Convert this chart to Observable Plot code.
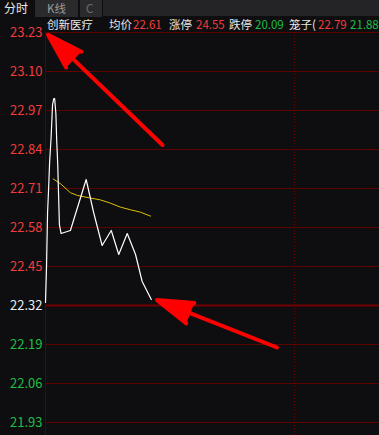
<!DOCTYPE html>
<html>
<head>
<meta charset="utf-8">
<script src="https://cdn.jsdelivr.net/npm/d3@7"></script>
<script src="https://cdn.jsdelivr.net/npm/@observablehq/plot@0.6"></script>
<style>
  html, body { margin: 0; padding: 0; background: #0e0e10; }
  body { width: 379px; height: 435px; overflow: hidden; position: relative;
         font-family: "Noto Sans CJK SC", "Noto Sans", sans-serif; }
  #chart { position: absolute; left: 0; top: 0; }
  .bar { position: absolute; left: 0; top: 0; width: 379px; height: 19px; background: #0e0e10; }
  .tab { position: absolute; top: 0; height: 17px; background: #2a2a2c; }
  .t { position: absolute; white-space: nowrap; font-size: 11.5px; line-height: 12px; }
  .w { color: #e8e8e8; } .r { color: #f23c3c; } .g { color: #1fbf45; }
</style>
</head>
<body>
<div id="chart"></div>
<div class="bar"></div>
<div class="tab" style="left:35px;width:43px"></div>
<div class="tab" style="left:80px;width:22px"></div>
<div class="tab" style="left:103px;width:276px;height:16px;background:#242426"></div>
<div class="t w" style="left:4px;top:2px;font-size:12px;line-height:12px">分时</div>
<div class="t" style="left:47px;top:2px;font-size:11.5px;line-height:12px;color:#9a9a9a">K线</div>
<div class="t" style="left:86px;top:2px;font-size:11.5px;line-height:12px;color:#6a6a6a">C</div>
<div id="info"></div>
<script>
// ---- data ----
const stockName = "创新医疗";
const infoLabels = ["均价", "涨停", "跌停", "笼子("];
const infoValues = ["22.61", "24.55", "20.09", "22.79"];
const infoExtra = "21.88";
const prevClose = 22.32;
const yTicks = [23.23, 23.10, 22.97, 22.84, 22.71, 22.58, 22.45, 22.32, 22.19, 22.06, 21.93];
const minutes = [0, 0.5, 1, 1.5, 2, 2.7, 3.4, 4, 4.4, 5, 5.4, 5.9, 6.7, 7.5, 12, 19.6, 23.2, 27.3, 31.7, 35.3, 39.4, 43.4, 46.6, 51];
const price =   [22.33, 22.45, 22.63, 22.71, 22.80, 22.88, 22.99, 23.01, 23.01, 22.96, 22.87, 22.79, 22.59, 22.56, 22.57, 22.74, 22.63, 22.52, 22.57, 22.49, 22.56, 22.49, 22.40, 22.34];
const avgMinutes = [3.7, 7.2, 12, 15.3, 21.7, 26.5, 31.3, 36.1, 41, 45.8, 50.6];
const avgPrice =   [22.742, 22.726, 22.696, 22.687, 22.678, 22.672, 22.661, 22.648, 22.639, 22.631, 22.618];
const middayMinute = 120;
// annotation arrows (tail -> tip) in minute / price units
const arrowX1 = [56.4, 111.6];
const arrowY1 = [22.855, 22.18];
const arrowX2 = [1.2, 53.8];
const arrowY2 = [23.222, 22.338];

// ---- header info row ----
const info = document.getElementById("info");
const infoPos = [[109, 133], [169, 196], [229, 255], [289, 318]];
const valueClass = ["r", "r", "g", "r"];
function span(cls, x, txt) {
  const s = document.createElement("div");
  s.className = "t " + cls; s.style.left = x + "px"; s.style.top = "18px"; s.textContent = txt;
  info.appendChild(s);
}
span("w", 47, stockName);
infoLabels.forEach((l, i) => { span("w", infoPos[i][0], l); span(valueClass[i], infoPos[i][1], infoValues[i]); });
span("g", 350, infoExtra);

// ---- chart ----
const pts = minutes.map((m, i) => ({m, p: price[i]}));
const avg = avgMinutes.map((m, i) => ({m, p: avgPrice[i]}));
const arrows = arrowX1.map((x, i) => ({x1: x, y1: arrowY1[i], x2: arrowX2[i], y2: arrowY2[i]}));
const gridColor = "#5e0000";
const upT = yTicks.filter(v => v > prevClose);
const dnT = yTicks.filter(v => v < prevClose);

const plot = Plot.plot({
  width: 379,
  height: 435,
  marginLeft: 45,
  marginRight: 0,
  marginTop: 32,
  marginBottom: 13,
  style: {background: "#0e0e10", fontFamily: "'Noto Sans CJK SC', 'Noto Sans', sans-serif", fontSize: "13px"},
  x: {domain: [0, 161], axis: null},
  y: {domain: [21.93, 23.23], axis: null},
  marks: [
    Plot.ruleY(yTicks.filter(v => v !== prevClose), {stroke: gridColor, strokeWidth: 1}),
    Plot.ruleY([prevClose], {stroke: "#740000", strokeWidth: 2}),
    Plot.ruleX([0], {stroke: gridColor, strokeWidth: 1, y1: 23.23, y2: 21.93, insetBottom: -13}),
    Plot.ruleX([middayMinute], {stroke: "#7a0000", strokeWidth: 1, strokeDasharray: "1,2", insetBottom: -13}),
    Plot.text(upT, {y: d => d, frameAnchor: "left", textAnchor: "end", dx: -3, text: d => d.toFixed(2), fill: "#f23c3c"}),
    Plot.text([prevClose], {y: d => d, frameAnchor: "left", textAnchor: "end", dx: -3, text: d => d.toFixed(2), fill: "#e8eef8"}),
    Plot.text(dnT, {y: d => d, frameAnchor: "left", textAnchor: "end", dx: -3, text: d => d.toFixed(2), fill: "#1fbf45"}),
    Plot.line(avg, {x: "m", y: "p", stroke: "#e0c000", strokeWidth: 1}),
    Plot.line(pts, {x: "m", y: "p", stroke: "#ffffff", strokeWidth: 1.2}),
    Plot.arrow(arrows, {x1: "x1", y1: "y1", x2: "x2", y2: "y2", stroke: "#ff0000", fill: "#ff0000", strokeWidth: 4, headAngle: 34, headLength: 14, strokeLinejoin: "miter"})
  ]
});
document.getElementById("chart").appendChild(plot);
</script>
</body>
</html>
